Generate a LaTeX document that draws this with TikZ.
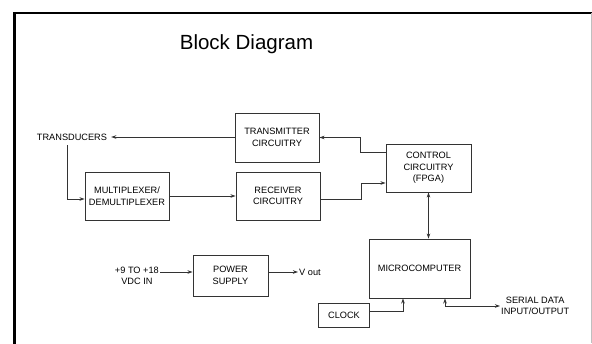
\documentclass[tikz,border=0pt]{standalone}
\usepackage{fontspec}
\setmainfont{Liberation Sans}
\usetikzlibrary{arrows.meta, calc}

\begin{document}
\begin{tikzpicture}[x=1pt, y=-1pt, >={Stealth[length=5pt,width=3.5pt]}, line cap=butt, line join=miter]
	
	\tikzset{
		blk/.style={draw=black!80, line width=0.9pt, align=center, inner sep=0pt, font=\lbl},
		lab/.style={align=center, inner sep=1pt, font=\lbl},
		wire/.style={draw=black!80, line width=0.9pt},
		frame/.style={black, line width=2.6pt}
	}
	
	\newcommand{\lbl}{\fontsize{9.2}{11.5}\selectfont}
	
	\useasboundingbox (0,0) rectangle (592,343);
	\fill[white] (0,0) rectangle (592,343);
	
	\draw[frame] (14.5,344) -- (14.5,13) -- (592,13);
	\draw[gray!50, line width=1pt] (591,13) -- (591,343);
	
	\node[font=\fontsize{20.5}{24}\selectfont] (title) at (246.5,44) {Block Diagram};
	
	\node[blk, minimum width=84, minimum height=49] (xmit)  at (277,137.5) {TRANSMITTER\\CIRCUITRY};
	\node[blk, minimum width=84, minimum height=48] (recv)  at (278,196)   {RECEIVER\\CIRCUITRY};
	\node[blk, minimum width=84, minimum height=48] (mux)   at (127,196)   {MULTIPLEXER/\\DEMULTIPLEXER};
	\node[blk, minimum width=85, minimum height=48] (ctrl)  at (428.5,168) {CONTROL\\CIRCUITRY\\(FPGA)};
	\node[blk, minimum width=101, minimum height=59] (micro) at (419.5,268.5) {MICROCOMPUTER};
	\node[blk, minimum width=51, minimum height=24] (clock) at (344,315)   {CLOCK};
	\node[blk, minimum width=75, minimum height=41] (power) at (230.5,275.5) {POWER\\SUPPLY};
	
	\node[lab, inner xsep=4pt] (trans) at (72,137) {TRANSDUCERS};
	\node[lab, anchor=east] (vin) at (160,276) {+9 TO +18\\VDC IN};
	\node[lab, anchor=west] (vout) at (298,272) {V out};
	\node[lab, anchor=west] (serial) at (500,306) {SERIAL DATA\\INPUT/OUTPUT};
	
	\coordinate (tdown) at (67,145);
	
	\draw[wire,->] (xmit.west |- trans.east) -- (trans.east);
	\draw[wire,->] (tdown) |- ([yshift=-3]mux.west);
	\draw[wire,->] (mux.east) -- (recv.west);
	
	\draw[wire,->] ([yshift=16]ctrl.west) -- ++(-25,0) |- (xmit.east);
	\draw[wire,->] ([yshift=-3]recv.east) -- ++(41,0) |- ([yshift=-15]ctrl.west);
	
	\draw[wire,<->] (ctrl.south) -- (ctrl.south |- micro.north);
	\draw[wire,->] ([yshift=4]clock.east) -| ([xshift=-16.5]micro.south);
	\draw[wire,<->] ([xshift=25.5]micro.south) |- (serial.west);
	
	\draw[wire,->] (vin.east |- 0,272) -- (power.west |- 0,272);
	\draw[wire,->] (power.east |- 0,272) -- (vout.west);
	
\end{tikzpicture}
\end{document}
